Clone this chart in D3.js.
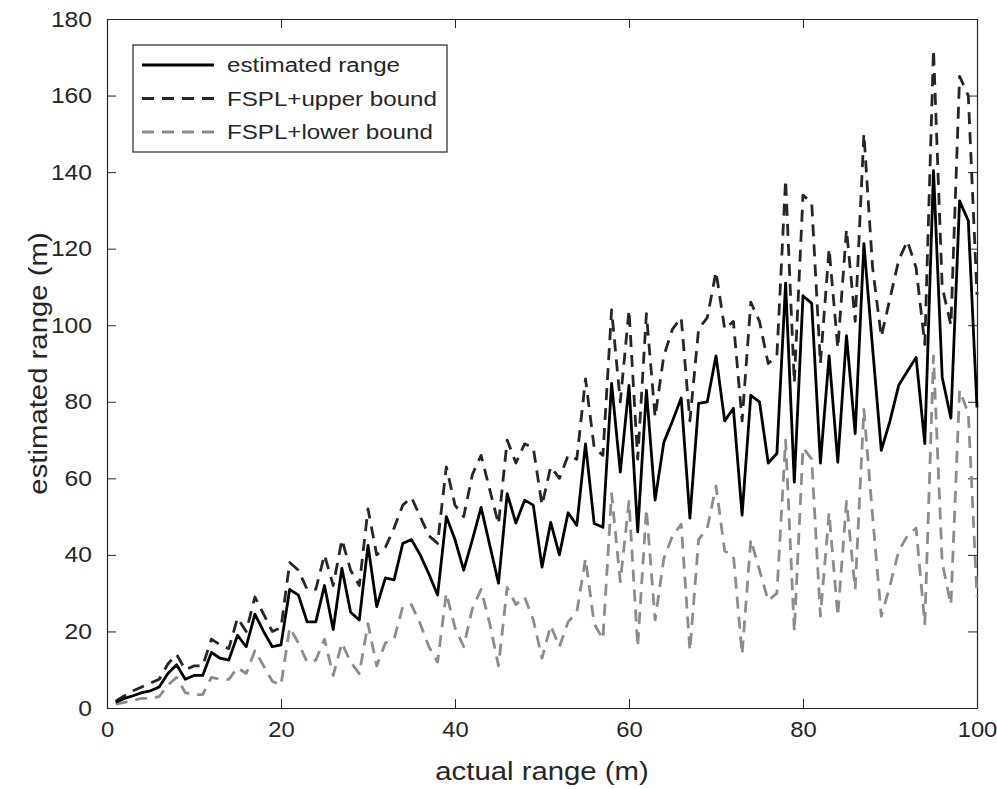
<!DOCTYPE html>
<html lang="en">
<head>
  <meta charset="UTF-8">
  <title>Estimated vs actual range</title>
  <style>
    body {
      margin: 0;
      background-color: #ffffff;
      font-family: Arial, "Liberation Sans", sans-serif;
    }
    .tick text {
      fill: #262626;
      font-size: 22px;
    }
    .tick line, .domain {
      stroke: #262626;
    }
  </style>
</head>
<body>
  <div id="chart"></div>

  <script src="https://d3js.org/d3.v7.min.js"></script>
  <script>
    // actual range (m), one sample per metre
    const actual = d3.range(1, 101);

    const estimated = [
      1.5, 2.5, 3.2, 4, 4.5, 5.5, 9, 11.3, 7.5, 8.5,
      8.5, 14.5, 13, 12.5, 19, 16, 24.5, 20, 16, 16.5,
      31, 29.5, 22.5, 22.5, 32, 20.5, 36.5, 25, 23, 42.5,
      26.5, 34, 33.5, 43, 44, 40, 35, 29.5, 50, 44,
      36, 44, 52.4, 42.5, 32.6, 56, 48.3, 54.3, 53, 36.8,
      48.5, 40, 51, 47.7, 69, 48.2, 47.2, 84.8, 61.6, 84.3,
      46, 83, 54.3, 69.4, 75, 81, 49.6, 79.6, 80, 92,
      75, 78.3, 50.4, 81.7, 80, 64, 66.5, 111, 59, 107.7,
      105.7, 64, 92, 64.2, 97.3, 71.7, 121.3, 94, 67.3, 75,
      84.3, 88, 91.6, 69.1, 140.4, 86.4, 75.7, 132.5, 127.3, 78.5
    ];

    const upper = [
      1.8, 3.2, 4.5, 5.5, 6.5, 7.5, 11.5, 14, 10, 11,
      11, 18, 16.5, 15.5, 23.5, 20, 29, 24.5, 20, 21,
      38, 36, 31, 31, 40, 32, 44, 36, 32, 52,
      40, 42, 47, 53, 55, 50, 45, 43, 63, 53,
      50, 61, 66, 57, 48, 70, 64, 69, 68, 53,
      63, 60, 66, 65, 86, 68, 66, 104, 80, 104,
      65, 103, 76, 92, 99, 102, 75, 99, 102, 114,
      99, 101, 75, 106, 101, 90, 92, 138, 85, 134,
      132, 90, 120, 94, 125, 101, 150, 115, 97, 107,
      117, 122, 115, 95, 172, 110, 100, 165, 160, 108
    ];

    const lower = [
      1, 1.5, 2, 2.5, 2.5, 3, 6, 8, 4, 3.5,
      3.5, 8, 7.5, 7.5, 10.5, 9, 15, 11, 7, 6,
      21, 17, 12, 12.5, 18, 8.5, 17, 12, 9, 22,
      11, 17, 18, 26.5, 27, 22, 16, 12, 30, 21,
      16, 26, 31, 22, 11, 31.5, 27, 29, 23, 13,
      21.5, 16, 22.5, 25, 39, 22, 18, 56, 33, 54,
      16, 52, 23, 39, 45, 48, 15, 44, 47, 58,
      41, 40, 14, 44, 36, 28, 30, 70, 20, 68,
      65, 24, 51, 24, 54, 31, 78, 50, 24, 32,
      41, 45, 47, 22, 92, 38, 27, 83, 77, 29
    ];

    const xTicks = [0, 20, 40, 60, 80, 100];
    const yTicks = [0, 20, 40, 60, 80, 100, 120, 140, 160, 180];

    const series = [
      { name: 'estimated range', values: estimated, color: '#000000', dash: null },
      { name: 'FSPL+upper bound', values: upper, color: '#262626', dash: '12,8' },
      { name: 'FSPL+lower bound', values: lower, color: '#8c8c8c', dash: '12,8' }
    ];

    const width = 997, height = 789;
    const margin = { top: 19, right: 20, bottom: 81, left: 107 };
    const innerW = width - margin.left - margin.right;
    const innerH = height - margin.top - margin.bottom;

    // the text in the picture is a little wider than Arial, stretch it sideways
    function stretch(sel, k) {
      sel.each(function() {
        const t = d3.select(this);
        const ax = +t.attr('x') || 0;
        t.attr('transform', `translate(${ax},0) scale(${k},1) translate(${-ax},0)`);
      });
    }

    const svg = d3.select('#chart').append('svg')
      .attr('width', width)
      .attr('height', height);

    const g = svg.append('g')
      .attr('transform', `translate(${margin.left},${margin.top})`);

    const x = d3.scaleLinear().domain([0, 100]).range([0, innerW]);
    const y = d3.scaleLinear().domain([0, 180]).range([innerH, 0]);

    // axes, matlab style: ticks pointing inward, mirrored on top/right
    g.append('g')
      .attr('transform', `translate(0,${innerH})`)
      .call(d3.axisBottom(x).tickValues(xTicks).tickSize(-9).tickPadding(13).tickSizeOuter(0))
      .selectAll('text').call(stretch, 1.08);

    g.append('g')
      .call(d3.axisLeft(y).tickValues(yTicks).tickSize(-9).tickPadding(15).tickSizeOuter(0))
      .selectAll('text').call(stretch, 1.12);

    g.append('g')
      .call(d3.axisTop(x).tickValues(xTicks).tickSize(-9).tickFormat('').tickSizeOuter(0));

    g.append('g')
      .attr('transform', `translate(${innerW},0)`)
      .call(d3.axisRight(y).tickValues(yTicks).tickSize(-9).tickFormat('').tickSizeOuter(0));

    g.selectAll('.domain').attr('stroke-width', 1.2);

    const line = d3.line()
      .x((d, i) => x(actual[i]))
      .y(d => y(d));

    // draw lower first so the darker ones sit on top
    [series[2], series[1], series[0]].forEach(s => {
      g.append('path')
        .datum(s.values)
        .attr('fill', 'none')
        .attr('stroke', s.color)
        .attr('stroke-width', 2.8)
        .attr('stroke-linejoin', 'round')
        .attr('stroke-dasharray', s.dash)
        .attr('d', line);
    });

    // axis labels
    svg.append('text')
      .attr('transform', `translate(${margin.left + innerW / 2},780) scale(1.15,1)`)
      .attr('text-anchor', 'middle')
      .attr('fill', '#262626')
      .style('font-size', '25.5px')
      .text('actual range (m)');

    svg.append('text')
      .attr('transform', `translate(47,${margin.top + innerH / 2}) rotate(-90) scale(1.15,1)`)
      .attr('text-anchor', 'middle')
      .attr('fill', '#262626')
      .style('font-size', '25.5px')
      .text('estimated range (m)');

    // legend
    const legend = svg.append('g').attr('transform', 'translate(133,45)');
    legend.append('rect')
      .attr('width', 314).attr('height', 107)
      .attr('fill', '#ffffff')
      .attr('stroke', '#262626')
      .attr('stroke-width', 1.2);

    series.forEach((s, i) => {
      const ly = 20 + i * 33.5;
      legend.append('line')
        .attr('x1', 9).attr('x2', 81)
        .attr('y1', ly).attr('y2', ly)
        .attr('stroke', s.color)
        .attr('stroke-width', 2.8)
        .attr('stroke-dasharray', s.dash);
      legend.append('text')
        .attr('x', 94).attr('y', ly + 7.5)
        .attr('fill', '#262626')
        .style('font-size', '21px')
        .text(s.name)
        .call(stretch, 1.15);
    });
  </script>
</body>
</html>
